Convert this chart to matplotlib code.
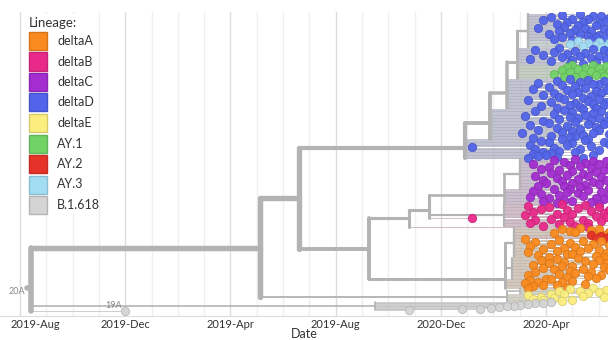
import numpy as np
import matplotlib
matplotlib.use('Agg')
import matplotlib.pyplot as plt
from matplotlib.patches import Rectangle
from matplotlib.collections import LineCollection
from matplotlib import colors as mcolors
from matplotlib.transforms import ScaledTranslation

plt.rcParams['font.family'] = ['Lato', 'DejaVu Sans']

# dates are months counted from the first gridline
tick_months = [0, 4, 8, 12, 16, 20]
tick_labels = ['2019-Aug', '2019-Dec', '2019-Apr', '2019-Aug', '2020-Dec', '2020-Apr']

lineages = ['deltaA', 'deltaB', 'deltaC', 'deltaD', 'deltaE', 'AY.1', 'AY.2', 'AY.3', 'B.1.618']
lineage_colors = ['#FA8A1E', '#E8298A', '#A32DD0', '#5264E9', '#FBEE7E',
                  '#71D266', '#E6332A', '#A3DDF4', '#D4D4D4']

# internal nodes of the tree
node_names = ['root', 'nA', 'nB', 'nD', 'nD1', 'nD2', 'nD3', 'nD4', 'nC', 'nBC',
              'nPC', 'nCp', 'nCp1', 'nPk', 'nOr', 'nOrU', 'nOrL', 'nY', 'nY1', 'nG']
node_parents = [None, 'root', 'nA', 'nB', 'nD', 'nD1', 'nD2', 'nD3', 'nB', 'nC',
                'nBC', 'nPC', 'nCp', 'nPC', 'nC', 'nOr', 'nOr', 'nA', 'nY', 'root']
node_dates = [0.42, 9.13, 10.61, 16.92, 17.87, 18.5, 18.9, 19.3, 13.27, 14.79,
              15.55, 18.4, 19.0, 18.4, 18.45, 18.8, 18.7, 18.5, 19.0, 13.5]
root_start = 0.27

# tip dates, each group listed top to bottom
tips_D1 = [21.3, 20.6, 22.1, 21.8, 20.2, 22.4, 21.0, 21.6, 19.9, 22.3, 20.8, 21.4,
           22.0, 20.4, 21.9, 21.2, 22.5, 20.7, 21.5, 19.7, 22.2, 21.1, 20.5, 21.7,
           22.4, 20.9, 21.3, 20.1, 22.0, 21.6, 20.6, 21.9, 22.3, 20.3, 21.0, 21.7]
tips_AY3 = [21.2, 22.0, 21.6, 22.4, 20.9, 21.9, 22.3, 21.4, 22.1]
tips_D2 = [20.5, 21.8, 19.6, 22.2, 21.1, 20.3, 21.5, 22.4, 20.8, 19.9, 21.3,
           22.0, 20.6, 21.7, 19.4, 22.3, 21.0, 20.2, 21.9, 22.5, 20.9, 21.4]
tips_AY1 = [21.0, 21.8, 22.3, 20.8, 21.5, 22.0, 21.2, 20.6, 22.4, 21.7,
            20.9, 22.1, 21.4, 20.3, 21.9, 22.2, 21.1, 20.7, 21.6]
tips_D3 = [20.9, 21.6, 22.2, 20.4, 21.3, 19.7, 22.0, 21.8, 20.6, 21.1,
           22.4, 20.1, 21.5, 19.5, 22.3, 20.8, 21.9, 21.2, 20.3, 22.1,
           21.0, 19.9, 21.7, 22.5, 20.5, 21.4, 20.7, 22.0, 19.3, 21.6,
           22.3, 20.2, 21.1, 21.8, 20.9, 22.2, 19.8, 21.3, 20.4, 21.9]
tips_D4 = [21.4, 20.7, 22.1, 19.6, 21.0, 21.8, 20.3, 22.4, 21.5, 19.2,
           20.9, 22.0, 21.2, 20.5, 21.7, 22.3, 19.9, 21.1, 20.1, 22.2,
           21.6, 19.4, 20.8, 21.9, 22.5, 20.4, 21.3, 19.7, 22.0, 21.0,
           20.6, 21.8, 19.1, 22.4, 21.4, 20.2, 21.1, 20.9, 19.5, 21.6]
tips_D5 = [20.6, 21.5, 19.8, 22.2, 20.1, 21.0, 22.4, 19.4, 20.8, 21.7, 17.2, 20.3, 21.3,
           19.6, 22.0, 20.5, 19.9, 21.1, 20.2, 19.5, 21.8, 20.0, 19.7, 20.4, 19.3, 21.4]
tips_C1 = [21.1, 20.3, 21.8, 22.3, 20.7, 21.5, 19.5, 22.0, 20.9, 21.3,
           22.4, 20.1, 21.7, 19.8, 22.2, 20.5, 21.0, 21.9, 20.2, 22.5,
           21.4, 20.8, 19.6, 21.6, 22.1, 20.4, 21.2, 19.9, 22.3, 20.6,
           21.8, 21.0, 20.0, 22.0, 21.5, 20.7, 19.7, 21.3, 22.4, 20.9]
tips_C2 = [20.3, 21.6, 19.5, 22.1, 20.8, 21.2, 19.8, 22.4, 20.5, 21.4,
           19.4, 21.9, 20.1, 22.2, 20.7, 21.0, 19.9, 21.7, 20.4, 22.0]
tips_B1 = [20.6, 21.5, 19.3, 22.0, 20.1, 21.2, 19.8, 22.4, 20.8, 21.7,
           19.5, 22.2, 20.4, 21.0, 19.2, 21.9, 20.7, 22.3]
tips_Bearly = [17.2]
tips_B2 = [20.2, 21.4, 19.6, 22.1, 20.9, 21.6, 19.4, 20.5, 22.5, 21.1, 19.9]
tips_Bx = [21.6]
tips_A1 = [21.3, 20.6, 22.0, 21.7, 20.9, 22.4, 21.1, 20.3, 21.8, 22.2]
tips_AY2 = [21.7, 22.1, 22.4, 21.9, 22.3]
tips_A2 = [19.2, 20.5, 21.4, 22.1, 19.6, 20.9, 21.8, 20.2, 22.4, 19.4, 21.1, 20.7, 21.6,
           19.9, 22.0, 20.4, 21.3, 19.3, 22.3, 20.8, 21.0, 19.7, 21.9, 20.1, 22.2]
tips_A3 = [21.2, 20.4, 22.0, 19.8, 21.5, 20.7, 22.3, 20.1, 21.8, 19.5, 21.0, 20.6, 22.2, 19.9,
           21.4, 20.3, 22.4, 20.9, 21.7, 19.6, 21.1, 20.5, 22.1, 19.3, 21.6, 20.8, 21.9, 20.0]
tips_A4 = [20.2, 19.4, 21.0, 19.7, 20.6, 19.2, 21.5, 19.9, 20.4, 19.5, 20.8, 19.3]
tips_E1 = [21.8, 20.9, 22.3, 21.3, 20.5, 22.0, 21.6, 20.2]
tips_E2 = [20.7, 19.3, 21.4, 19.8, 22.2, 20.3, 19.5, 21.0, 19.9, 20.6]
tips_G = [20.2, 19.9, 19.6, 19.3, 19.0, 18.8, 18.5, 18.2, 17.9, 17.5, 16.8, 14.8]
tips_19A = [3.99]

group_tips = [tips_D1, tips_AY3, tips_D2, tips_AY1, tips_D3, tips_D4, tips_D5,
              tips_C1, tips_C2, tips_B1, tips_Bearly, tips_B2, tips_Bx,
              tips_A1, tips_AY2, tips_A2, tips_A3, tips_A4,
              tips_E1, tips_E2, tips_G, tips_19A]
group_parents = ['nD4', 'nD4', 'nD3', 'nD3', 'nD2', 'nD1', 'nD',
                 'nCp1', 'nCp', 'nPk', 'nPC', 'nPk', 'nBC',
                 'nOrU', 'nOrU', 'nOrU', 'nOrL', 'nOr',
                 'nY1', 'nY', 'nG', 'root']
group_lineages = ['deltaD', 'AY.3', 'deltaD', 'AY.1', 'deltaD', 'deltaD', 'deltaD',
                  'deltaC', 'deltaC', 'deltaB', 'deltaB', 'deltaB', 'deltaB',
                  'deltaA', 'AY.2', 'deltaA', 'deltaA', 'deltaA',
                  'deltaE', 'deltaE', 'B.1.618', 'B.1.618']

# ---- layout: one row per tip, internal nodes at the mean of their children
color_of = dict(zip(lineages, lineage_colors))
date_of = dict(zip(node_names, node_dates))
parent_of = dict(zip(node_names, node_parents))

tip_x, tip_y, tip_par, tip_lin = [], [], [], []
row = 0
for tips, par, lin in zip(group_tips, group_parents, group_lineages):
    for d in tips:
        tip_x.append(d)
        tip_y.append(row)
        tip_par.append(par)
        tip_lin.append(lin)
        row += 1
ntips = row

child_nodes = {n: [c for c in node_names if parent_of[c] == n] for n in node_names}
child_tips = {n: [i for i in range(ntips) if tip_par[i] == n] for n in node_names}

node_y, node_n, node_span = {}, {}, {}


def layout(n):
    ys, cnt = [], 0
    for c in child_nodes[n]:
        layout(c)
        ys.append(node_y[c])
        cnt += node_n[c]
    for i in child_tips[n]:
        ys.append(tip_y[i])
        cnt += 1
    node_y[n] = np.mean(ys)
    node_n[n] = cnt
    node_span[n] = (min(ys), max(ys))


layout('root')


def width(n):
    return 0.6 + 3.4 * np.sqrt(n / ntips)


branch_gray = np.array(mcolors.to_rgb('#B3B3B3'))
tip_gray = np.array(mcolors.to_rgb('#BEBEBE'))

segs, lws, cols = [], [], []
for i in range(ntips):
    segs.append([(date_of[tip_par[i]], tip_y[i]), (tip_x[i], tip_y[i])])
    lws.append(0.55)
    tint = np.array(mcolors.to_rgb(color_of[tip_lin[i]]))
    cols.append(0.88 * tip_gray + 0.12 * tint)
for n in node_names:
    par = parent_of[n]
    x0 = root_start if par is None else date_of[par]
    segs.append([(date_of[n], node_span[n][0]), (date_of[n], node_span[n][1])])
    segs.append([(x0, node_y[n]), (date_of[n], node_y[n])])
    lws += [width(node_n[n])] * 2
    cols += [branch_gray] * 2

fig = plt.figure(figsize=(6.08, 3.4), dpi=100)
ax = fig.add_axes([0, 24 / 340, 1, 304 / 340])

for m in range(0, 23):
    ax.axvline(m, color='#DCDCDC' if m % 4 == 0 else '#EFEFEF', lw=1, zorder=0)

ax.add_collection(LineCollection(segs, linewidths=lws, colors=cols,
                                 capstyle='round', zorder=2))

for i in range(ntips):
    c = np.array(mcolors.to_rgb(color_of[tip_lin[i]]))
    ax.scatter(tip_x[i], tip_y[i], s=36, facecolor=c, edgecolor=c * 0.86,
               linewidth=0.6, alpha=0.95, zorder=3)

# clade labels
ax.annotate('20A', (root_start, node_y['root']), xytext=(-1, -2), textcoords='offset points',
            ha='right', va='center', fontsize=6.5, color='#888888')
ax.annotate('19A', (tips_19A[0], ntips - 1), xytext=(-2, 1), textcoords='offset points',
            ha='right', va='bottom', fontsize=6.5, color='#888888')

px = (ntips - 1) / 297.0
ax.set_ylim(ntips - 1 + 5 * px, -2 * px)
ax.set_xlim(-20 / 26.3, 588 / 26.3)
ax.set_yticks([])
ax.set_xticks(tick_months)
ax.set_xticklabels(tick_labels, fontsize=8, color='#333333')
ax.tick_params(axis='x', length=0, pad=2)
lab0 = ax.xaxis.get_major_ticks()[0].label1
lab0.set_transform(lab0.get_transform() + ScaledTranslation(15 / 100, 0, fig.dpi_scale_trans))
ax.set_xlabel('Date', fontsize=9, color='#333333', labelpad=-1)
for s in ['top', 'left', 'right']:
    ax.spines[s].set_visible(False)
ax.spines['bottom'].set_color('#DDDDDD')

# legend
W, H = 608, 340
fig.patches.append(Rectangle((24 / W, 1 - 214 / H), 73 / W, 200 / H, transform=fig.transFigure,
                             facecolor='white', edgecolor='none'))
fig.text(29 / W, 1 - 23 / H, 'Lineage:', fontsize=9.5, va='center', color='#333333')
for k, (lab, c) in enumerate(zip(lineages, lineage_colors)):
    yc = 41 + 20.5 * k
    rgb = np.array(mcolors.to_rgb(c))
    fig.patches.append(Rectangle((29 / W, 1 - (yc + 9) / H), 18 / W, 18 / H,
                                 transform=fig.transFigure, facecolor=rgb,
                                 edgecolor=rgb * 0.85, lw=1))
    fig.text(57 / W, 1 - yc / H, lab, fontsize=9, va='center', color='#333333')

fig.savefig('out.png', dpi=100)
